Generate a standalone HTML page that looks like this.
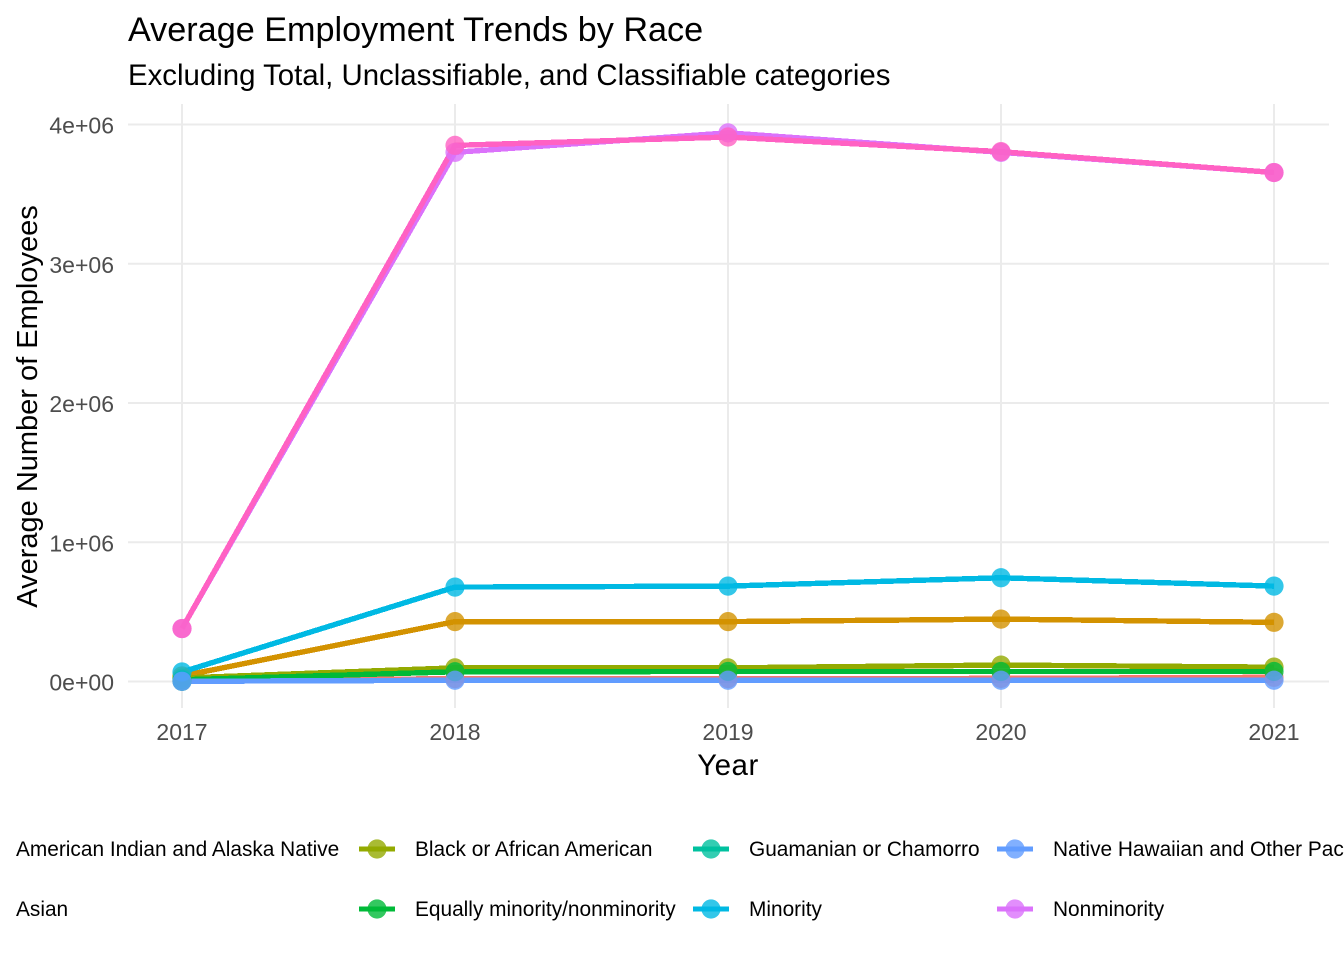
<!DOCTYPE html>
<html lang="en">
<head>
<meta charset="utf-8">
<title>Average Employment Trends by Race</title>
<style>
html,body{margin:0;padding:0;background:#fff;}
svg{display:block;font-family:"Liberation Sans",Arial,sans-serif;}
</style>
</head>
<body>
<svg id="chart" xmlns="http://www.w3.org/2000/svg" width="1344" height="960" viewBox="0 0 1344 960">
  <text x="128" y="41" font-size="34.2" fill="#000">Average Employment Trends by Race</text>
  <text x="128" y="85" font-size="29.4" fill="#000">Excluding Total, Unclassifiable, and Classifiable categories</text>
  <text x="728" y="775" font-size="29.5" letter-spacing="0.5" fill="#000" text-anchor="middle">Year</text>
  <text transform="translate(37,406.5) rotate(-90)" font-size="29" fill="#000" text-anchor="middle">Average Number of Employees</text>
  <g id="grid"></g>
  <g id="ticks"></g>
  <g id="lines"></g>
  <g id="points"></g>
  <g id="legend"></g>
</svg>
<script>
const years = [2017, 2018, 2019, 2020, 2021];
const yTickValues = [0, 1000000, 2000000, 3000000, 4000000];
const yTickLabels = ["0e+00", "1e+06", "2e+06", "3e+06", "4e+06"];
const seriesNames = ["American Indian and Alaska Native", "Asian", "Black or African American", "Equally minority/nonminority", "Guamanian or Chamorro", "Minority", "Native Hawaiian and Other Pacific Islander", "Nonminority", "White"];
const seriesColors = ["#F8766D", "#D39200", "#93AA00", "#00BA38", "#00C19F", "#00B9E3", "#619CFF", "#DB72FB", "#FF61C3"];
const americanIndian = [2000, 21000, 21000, 22000, 30000];
const asian = [40000, 430000, 430000, 448000, 425000];
const black = [25000, 98000, 98000, 118000, 103000];
const equallyMinority = [12000, 70000, 72000, 72000, 72000];
const guamanian = [1000, null, null, null, null];
const minority = [68000, 678000, 685000, 745000, 685000];
const nativeHawaiian = [1500, 9000, 9000, 9000, 9000];
const nonminority = [380000, 3800000, 3940000, 3800000, 3655000];
const white = [380000, 3850000, 3910000, 3805000, 3655000];
const seriesValues = [americanIndian, asian, black, equallyMinority, guamanian, minority, nativeHawaiian, nonminority, white];

const NS = "http://www.w3.org/2000/svg";
const xScale = year => 182 + (year - 2017) * 273;
const yScale = value => 681.5 - value / 1000000 * 139.25;
const make = (tag, parent) => {
  const el = document.createElementNS(NS, tag);
  parent.appendChild(el);
  return el;
};
const gridG = document.getElementById("grid");
const ticksG = document.getElementById("ticks");
const linesG = document.getElementById("lines");
const pointsG = document.getElementById("points");
const legendG = document.getElementById("legend");

yTickValues.forEach((value, i) => {
  const line = make("line", gridG);
  
  
  line.setAttribute("x1", 128);
  line.setAttribute("x2", 1329);
  line.setAttribute("y1", yScale(value));
  line.setAttribute("y2", yScale(value));
  line.setAttribute("stroke", "#ebebeb");
  line.setAttribute("stroke-width", 2);
  const label = make("text", ticksG);
  
  
  label.setAttribute("x", 114);
  label.setAttribute("y", yScale(value) + 9);
  label.setAttribute("text-anchor", "end");
  label.setAttribute("font-size", 23);
  label.setAttribute("fill", "#4d4d4d");
  label.textContent = yTickLabels[i];
});
years.forEach(year => {
  const line = make("line", gridG);
  
  
  line.setAttribute("x1", xScale(year));
  line.setAttribute("x2", xScale(year));
  line.setAttribute("y1", 104);
  line.setAttribute("y2", 708);
  line.setAttribute("stroke", "#ebebeb");
  line.setAttribute("stroke-width", 2);
  const label = make("text", ticksG);
  
  
  label.setAttribute("x", xScale(year));
  label.setAttribute("y", 740);
  label.setAttribute("text-anchor", "middle");
  label.setAttribute("font-size", 23);
  label.setAttribute("fill", "#4d4d4d");
  label.textContent = year;
});
seriesValues.forEach((values, s) => {
  const path = make("polyline", linesG);
  
  
  path.setAttribute("fill", "none");
  path.setAttribute("stroke", seriesColors[s]);
  path.setAttribute("stroke-width", 5.4);
  path.setAttribute("stroke-linejoin", "round");
  path.setAttribute("shape-rendering", "crispEdges");
  const coords = [];
  values.forEach((v, i) => {
    if (v !== null) coords.push(xScale(years[i]) + "," + yScale(v));
  });
  path.setAttribute("points", coords.join(" "));
});
seriesValues.forEach((values, s) => {
  values.forEach((v, i) => {
    if (v === null) return;
    const dot = make("circle", pointsG);
    
    
    dot.setAttribute("cx", xScale(years[i]));
    dot.setAttribute("cy", yScale(v));
    dot.setAttribute("r", 9.6);
    dot.setAttribute("fill", seriesColors[s]);
    dot.setAttribute("fill-opacity", 0.8);
  });
});
const legendColumnKeys = [-22, 377, 711, 1015, 1420];
seriesNames.forEach((name, s) => {
  const col = Math.floor(s / 2);
  const rowY = s % 2 === 0 ? 849 : 909;
  const keyX = legendColumnKeys[col];
  const key = make("line", legendG);
  
  
  key.setAttribute("x1", keyX - 18);
  key.setAttribute("x2", keyX + 18);
  key.setAttribute("y1", rowY);
  key.setAttribute("y2", rowY);
  key.setAttribute("stroke", seriesColors[s]);
  key.setAttribute("stroke-width", 5);
  const dot = make("circle", legendG);
  
  
  dot.setAttribute("cx", keyX);
  dot.setAttribute("cy", rowY);
  dot.setAttribute("r", 9.6);
  dot.setAttribute("fill", seriesColors[s]);
  dot.setAttribute("fill-opacity", 0.8);
  const label = make("text", legendG);
  
  
  label.setAttribute("x", keyX + 38);
  label.setAttribute("y", rowY + 7);
  label.setAttribute("font-size", 20.85);
  label.setAttribute("fill", "#000");
  label.textContent = name;
});
</script>
</body>
</html>
